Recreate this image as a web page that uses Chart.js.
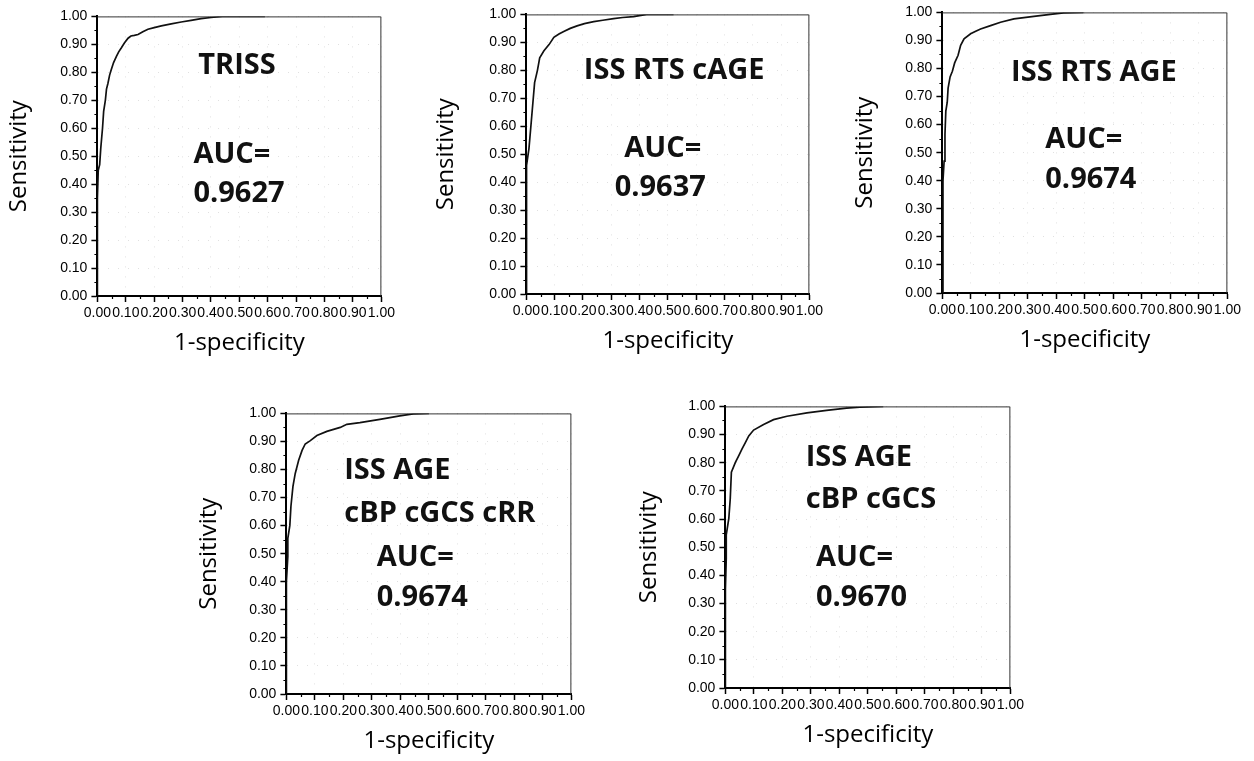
<!DOCTYPE html>
<html>
<head>
<meta charset="utf-8">
<script src="https://cdn.jsdelivr.net/npm/chart.js@4.4.1/dist/chart.umd.min.js"></script>
<style>
  html, body { margin: 0; padding: 0; background: #fff; }
  body { width: 1254px; height: 761px; position: relative; overflow: hidden; }
  canvas { position: absolute; }
</style>
</head>
<body>
<script>
// ---------- data ----------
const tickLabels = ['0.00','0.10','0.20','0.30','0.40','0.50','0.60','0.70','0.80','0.90','1.00'];
const minorTicks = [0.05,0.15,0.25,0.35,0.45,0.55,0.65,0.75,0.85,0.95];
const xTitle = '1-specificity';
const yTitle = 'Sensitivity';

const names1 = ['TRISS'];
const names2 = ['ISS RTS cAGE'];
const names3 = ['ISS RTS AGE'];
const names4 = ['ISS AGE', 'cBP cGCS cRR'];
const names5 = ['ISS AGE', 'cBP cGCS'];
const aucLabel = 'AUC=';
const aucValues = ['0.9627', '0.9637', '0.9674', '0.9674', '0.9670'];

// ROC curves: 1-specificity (fpr) and sensitivity (tpr)
const fpr1 = [0, 0, 0.003, 0.008, 0.012, 0.018, 0.022, 0.028, 0.032, 0.037, 0.043, 0.049, 0.057, 0.067, 0.075, 0.084, 0.095, 0.108, 0.118, 0.130, 0.143, 0.160, 0.178, 0.200, 0.225, 0.260, 0.295, 0.330, 0.365, 0.400, 0.440, 0.590];
const tpr1 = [0, 0.35, 0.45, 0.47, 0.53, 0.60, 0.66, 0.70, 0.74, 0.76, 0.79, 0.81, 0.835, 0.857, 0.873, 0.887, 0.905, 0.922, 0.930, 0.932, 0.935, 0.945, 0.954, 0.960, 0.966, 0.973, 0.980, 0.986, 0.992, 0.996, 1.0, 1.0];

const fpr2 = [0, 0, 0.001, 0.009, 0.015, 0.023, 0.029, 0.039, 0.047, 0.062, 0.080, 0.097, 0.115, 0.132, 0.155, 0.179, 0.205, 0.238, 0.270, 0.308, 0.340, 0.379, 0.425, 0.520];
const tpr2 = [0, 0.40, 0.46, 0.52, 0.59, 0.685, 0.756, 0.80, 0.845, 0.870, 0.892, 0.918, 0.930, 0.939, 0.950, 0.959, 0.967, 0.974, 0.979, 0.985, 0.989, 0.992, 1.0, 1.0];

const fpr3 = [0, 0.002, 0.002, 0.006, 0.009, 0.012, 0.017, 0.020, 0.027, 0.035, 0.043, 0.055, 0.064, 0.076, 0.099, 0.115, 0.134, 0.169, 0.204, 0.251, 0.321, 0.379, 0.425, 0.495];
const tpr3 = [0, 0.30, 0.40, 0.47, 0.566, 0.648, 0.68, 0.73, 0.77, 0.79, 0.82, 0.847, 0.883, 0.906, 0.924, 0.932, 0.941, 0.953, 0.965, 0.977, 0.986, 0.993, 0.998, 1.0];

const fpr4 = [0, 0, 0.005, 0.005, 0.012, 0.016, 0.023, 0.031, 0.043, 0.055, 0.066, 0.084, 0.107, 0.142, 0.189, 0.212, 0.258, 0.328, 0.398, 0.445, 0.500];
const tpr4 = [0, 0.40, 0.49, 0.555, 0.60, 0.67, 0.74, 0.786, 0.833, 0.868, 0.891, 0.903, 0.921, 0.936, 0.950, 0.961, 0.967, 0.979, 0.991, 0.998, 1.0];

const fpr5 = [0, 0, 0.003, 0.003, 0.012, 0.017, 0.021, 0.035, 0.047, 0.058, 0.070, 0.082, 0.099, 0.134, 0.169, 0.216, 0.286, 0.355, 0.425, 0.472, 0.554];
const tpr5 = [0, 0.35, 0.46, 0.544, 0.602, 0.672, 0.766, 0.801, 0.825, 0.848, 0.871, 0.895, 0.916, 0.936, 0.953, 0.965, 0.977, 0.986, 0.994, 0.997, 1.0];

// ---------- layout (page pixels) ----------
const panels = [
  { fpr: fpr1, tpr: tpr1, names: names1, auc: aucValues[0],
    area: {left: 97, top: 13, right: 382, bottom: 296}, yTitleX: 19,
    namePos: [[0.355, 0.823]], aucPos: [0.338, 0.505], valPos: [0.338, 0.364] },
  { fpr: fpr2, tpr: tpr2, names: names2, auc: aucValues[1],
    area: {left: 526, top: 11, right: 810, bottom: 294}, yTitleX: 446,
    namePos: [[0.203, 0.797]], aucPos: [0.346, 0.521], valPos: [0.312, 0.379] },
  { fpr: fpr3, tpr: tpr3, names: names3, auc: aucValues[2],
    area: {left: 942, top: 9, right: 1228, bottom: 293}, yTitleX: 865,
    namePos: [[0.241, 0.786]], aucPos: [0.361, 0.546], valPos: [0.361, 0.405] },
  { fpr: fpr4, tpr: tpr4, names: names4, auc: aucValues[3],
    area: {left: 286, top: 410, right: 572, bottom: 694}, yTitleX: 209,
    namePos: [[0.203, 0.795], [0.203, 0.642]], aucPos: [0.317, 0.484], valPos: [0.317, 0.343] },
  { fpr: fpr5, tpr: tpr5, names: names5, auc: aucValues[4],
    area: {left: 725, top: 403, right: 1011, bottom: 688}, yTitleX: 649,
    namePos: [[0.282, 0.819], [0.282, 0.667]], aucPos: [0.318, 0.462], valPos: [0.318, 0.322] }
];

const TITLE_FONT = 24;
const TITLE_OFFSET = TITLE_FONT * 1.2 / 2;   // lineHeight/2, title padding 0
const X_AXIS_H = 62;
const PAD_TOP = 9;
const PAD_RIGHT = 16;

// ---------- plugins ----------
const rocExtras = {
  id: 'rocExtras',
  beforeDatasetsDraw(chart) {
    const {ctx, chartArea: a} = chart;
    ctx.save();
    ctx.strokeStyle = '#333';
    ctx.lineWidth = 1;
    ctx.beginPath();
    ctx.moveTo(a.left, a.top + 0.5);
    ctx.lineTo(a.right - 0.5, a.top + 0.5);
    ctx.lineTo(a.right - 0.5, a.bottom);
    ctx.stroke();
    ctx.restore();
  },
  afterDraw(chart, args, opts) {
    const {ctx} = chart;
    const sx = chart.scales.x, sy = chart.scales.y;
    ctx.save();
    ctx.strokeStyle = '#000';
    ctx.lineWidth = 1.2;
    ctx.beginPath();
    minorTicks.forEach(v => {
      const px = Math.round(sx.getPixelForValue(v)) + 0.5;
      ctx.moveTo(px, sx.top);
      ctx.lineTo(px, sx.top + 3);
      const py = Math.round(sy.getPixelForValue(v)) + 0.5;
      ctx.moveTo(sy.right, py);
      ctx.lineTo(sy.right - 3, py);
    });
    ctx.stroke();
    ctx.fillStyle = '#111';
    ctx.font = 'bold 29px "Open Sans"';
    ctx.textAlign = 'left';
    ctx.textBaseline = 'middle';
    (opts.items || []).forEach(it => {
      ctx.fillText(it.text, sx.getPixelForValue(it.x), sy.getPixelForValue(it.y));
    });
    ctx.restore();
  }
};

function build() {
  panels.forEach((p, i) => {
    const yW = p.area.left - (p.yTitleX - TITLE_OFFSET);
    const areaW = p.area.right - p.area.left;
    const areaH = p.area.bottom - p.area.top;
    const cv = document.createElement('canvas');
    const W = Math.round(yW + areaW + PAD_RIGHT);
    const H = Math.round(PAD_TOP + areaH + X_AXIS_H);
    cv.width = W; cv.height = H;
    cv.style.width = W + 'px'; cv.style.height = H + 'px';
    cv.style.left = Math.round(p.area.left - yW) + 'px';
    cv.style.top = Math.round(p.area.top - PAD_TOP) + 'px';
    document.body.appendChild(cv);

    const items = [];
    p.names.forEach((n, k) => items.push({text: n, x: p.namePos[k][0], y: p.namePos[k][1]}));
    items.push({text: aucLabel, x: p.aucPos[0], y: p.aucPos[1]});
    items.push({text: p.auc, x: p.valPos[0], y: p.valPos[1]});

    const tickFont = {family: '"Liberation Sans", Arial, sans-serif', size: 14};
    const titleFont = {family: '"Open Sans", sans-serif', size: TITLE_FONT};
    const gridCommon = {
      drawOnChartArea: true,
      color: 'rgba(0,0,0,0.12)',
      tickColor: '#000',
      tickLength: 6,
      tickWidth: 1.5,
      lineWidth: 1
    };

    new Chart(cv, {
      type: 'scatter',
      data: {
        datasets: [{
          data: p.fpr.map((x, k) => ({x: x, y: p.tpr[k]})),
          showLine: true,
          borderColor: '#111',
          borderWidth: 1.7,
          pointRadius: 0,
          pointHoverRadius: 0,
          tension: 0,
          fill: false
        }]
      },
      options: {
        responsive: false,
        animation: false,
        devicePixelRatio: 1,
        events: [],
        layout: { padding: { top: PAD_TOP, right: PAD_RIGHT, left: 0, bottom: 0 } },
        plugins: {
          legend: { display: false },
          tooltip: { enabled: false },
          rocExtras: { items: items }
        },
        scales: {
          x: {
            type: 'linear', min: 0, max: 1,
            afterFit: s => { s.height = X_AXIS_H; },
            ticks: {
              stepSize: 0.1, autoSkip: false, maxRotation: 0, minRotation: 0,
              padding: 3, color: '#000', font: tickFont,
              callback: v => tickLabels[Math.round(v * 10)]
            },
            grid: gridCommon,
            border: { display: true, color: '#000', width: 2, dash: [1, 9] },
            title: { display: true, text: xTitle, color: '#000', font: titleFont, padding: 0 }
          },
          y: {
            type: 'linear', min: 0, max: 1,
            afterFit: s => { s.width = yW; },
            ticks: {
              stepSize: 0.1, autoSkip: false,
              padding: 4, color: '#000', font: tickFont,
              callback: v => tickLabels[Math.round(v * 10)]
            },
            grid: gridCommon,
            border: { display: true, color: '#000', width: 2, dash: [1, 9] },
            title: { display: true, text: yTitle, color: '#000', font: titleFont, padding: 0 }
          }
        }
      },
      plugins: [rocExtras]
    });
  });
}

const fontsReady = Promise.all([
  document.fonts.load('bold 29px "Open Sans"'),
  document.fonts.load('24px "Open Sans"'),
  document.fonts.load('14px "Liberation Sans"')
]).catch(() => {});
fontsReady.then(build, build);
</script>
</body>
</html>
